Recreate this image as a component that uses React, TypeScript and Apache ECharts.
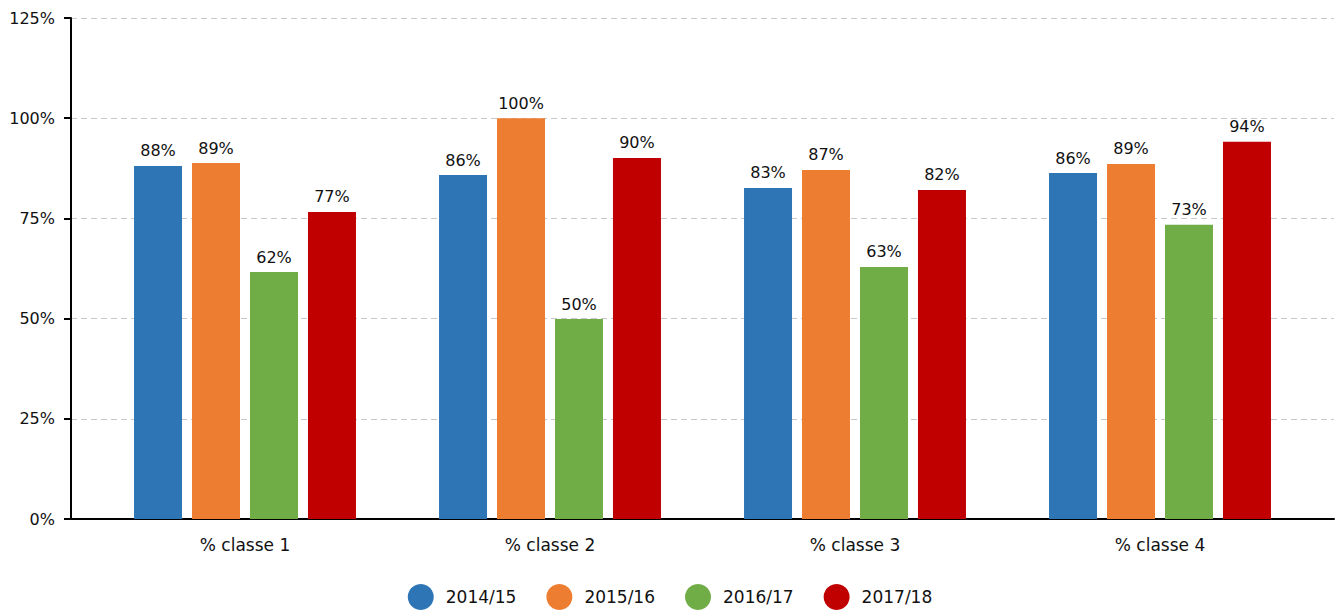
import React, { useEffect, useRef } from "react";
import * as echarts from "echarts";

const categories = ["% classe 1", "% classe 2", "% classe 3", "% classe 4"];
const seriesNames = ["2014/15", "2015/16", "2016/17", "2017/18"];
const values2014 = [88.1, 85.8, 82.6, 86.3];
const values2015 = [88.8, 100, 87.1, 88.6];
const values2016 = [61.6, 49.9, 62.9, 73.4];
const values2017 = [76.6, 90.1, 82.1, 94.1];
const colors = ["#2E75B6", "#ED7D31", "#70AD47", "#C00000"];
const yMin = 0;
const yMax = 125;
const yInterval = 25;

const FONT = "DejaVu Sans";

export default function App() {
  const ref = useRef<HTMLDivElement>(null);
  useEffect(() => {
    document.body.style.margin = "0";
    const chart = echarts.init(ref.current!, undefined, { renderer: "svg" });
    const allValues = [values2014, values2015, values2016, values2017];
    chart.setOption({
      animation: false,
      textStyle: { fontFamily: FONT },
      legend: {
        top: 584,
        left: "center",
        padding: 0,
        icon: "circle",
        itemWidth: 26,
        itemHeight: 26,
        itemGap: 30,
        data: seriesNames,
        textStyle: { fontSize: 17, color: "#111", fontFamily: FONT, padding: [0, 0, 0, 7] },
      },
      grid: [
        { left: 71, right: 6, top: 18, bottom: 93 },
        { left: 92.5, right: 27.5, top: 18, bottom: 93 },
      ],
      xAxis: [
        {
          gridIndex: 0,
          type: "category",
          data: [""],
          axisLine: { show: true, lineStyle: { color: "#000", width: 2 } },
          axisTick: { show: false },
          axisLabel: { show: false },
          splitLine: { show: false },
        },
        {
          gridIndex: 1,
          type: "category",
          data: categories,
          axisLine: { show: false },
          axisTick: { show: false },
          axisLabel: { fontSize: 17, color: "#111", margin: 17, fontFamily: FONT },
          splitLine: { show: false },
        },
      ],
      yAxis: [
        {
          gridIndex: 0,
          type: "value",
          min: yMin,
          max: yMax,
          interval: yInterval,
          axisLine: { show: true, lineStyle: { color: "#000", width: 2 } },
          axisTick: { show: true, length: 7, lineStyle: { color: "#000", width: 2 } },
          axisLabel: { formatter: "{value}%", fontSize: 16, color: "#111", margin: 16, fontFamily: FONT },
          splitLine: { show: true, lineStyle: { color: "#c8c8c8", type: [6, 4], width: 1 } },
        },
        {
          gridIndex: 1,
          type: "value",
          min: yMin,
          max: yMax,
          interval: yInterval,
          show: false,
          splitLine: { show: false },
        },
      ],
      series: seriesNames.map((name, i) => ({
        name,
        type: "bar",
        xAxisIndex: 1,
        yAxisIndex: 1,
        data: allValues[i],
        barWidth: 48,
        barGap: "20.8%",
        itemStyle: { color: colors[i] },
        label: {
          show: true,
          position: "top",
          distance: 7,
          fontSize: 16,
          color: "#111",
          fontFamily: FONT,
          formatter: (p: any) => Math.round(p.value) + "%",
        },
      })),
    });
    return () => chart.dispose();
  }, []);
  return <div ref={ref} style={{ width: 1340, height: 612 }} />;
}
